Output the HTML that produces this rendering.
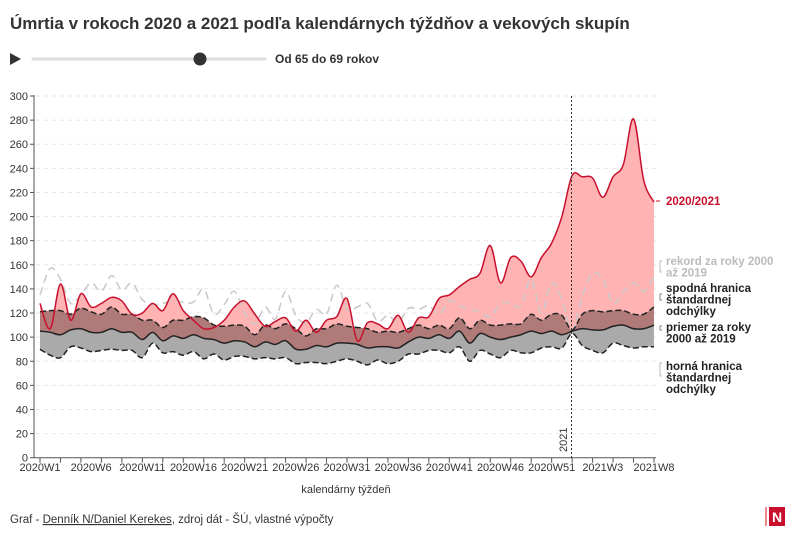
<!DOCTYPE html>
<html><head><meta charset="utf-8">
<style>
body{margin:0;background:#fff;width:800px;height:549px;overflow:hidden;font-family:"Liberation Sans",sans-serif;}
svg text{font-family:"Liberation Sans",sans-serif;}
</style></head>
<body>
<svg id="s" width="800" height="549" xmlns="http://www.w3.org/2000/svg">
<text x="10" y="29" font-size="17" font-weight="bold" fill="#333">Úmrtia v rokoch 2020 a 2021 podľa kalendárnych týždňov a vekových skupín</text>
<polygon points="10,53 10,65 21,59" fill="#333"/>
<line x1="33" y1="59" x2="265" y2="59" stroke="#ddd" stroke-width="3" stroke-linecap="round"/>
<circle cx="200" cy="59" r="6.5" fill="#333"/>
<text x="275" y="63" font-size="12" font-weight="bold" fill="#333">Od 65 do 69 rokov</text>
<g id="grid"></g>
<g id="plot"></g>
<text x="346" y="493" font-size="11" fill="#333" text-anchor="middle">kalendárny týždeň</text>
<text x="10" y="523" font-size="11.5" fill="#333">Graf - <tspan text-decoration="underline">Denník N/Daniel Kerekes</tspan>, zdroj dát - ŠÚ, vlastné výpočty</text>
<rect x="769" y="507" width="16" height="19" fill="#c8102e"/>
<rect x="765" y="507" width="2" height="19" fill="#e88"/>
<text x="777" y="522" font-size="14" font-weight="bold" fill="#fff" text-anchor="middle">N</text>
</svg>
<script>
const NS="http://www.w3.org/2000/svg";
const X=i=>40+10.233*i, Y=v=>457.7-1.2056*v;
const red=[128,107,144,114,136,125,128,133,130,119,120,128,122,136,122,114,107,108,114,125,130,119,109,113,116,105,114,104,114,117,132,97,112,111,107,118,104,116,117,132,135,142,148,153,176,145,166,163,150,166,178,200,234,233,232,216,233,243,281,230,212];
const rec=[135,157,148,128,135,145,138,151,139,145,131,127,128,130,129,129,140,119,127,138,120,111,125,115,138,118,112,123,119,143,123,125,128,113,118,112,124,123,126,119,130,126,123,121,117,128,128,126,148,120,145,131,106,134,153,148,128,137,145,138,150];
const up=[121,122,122,119,124,121,119,125,119,119,114,114,108,114,114,117,116,110,109,110,109,102,110,107,111,107,101,107,107,111,109,108,107,104,105,104,107,110,107,110,107,116,107,114,110,110,111,111,119,114,119,118,106,119,122,121,122,122,119,119,125];
const mean=[105,104,102,106,107,104,104,107,104,104,98,104,97,101,99,102,99,98,95,97,96,92,96,94,97,90,90,93,92,95,95,94,91,92,92,91,96,100,99,102,99,105,95,103,100,98,100,102,105,103,105,102,105,107,106,106,109,110,107,107,110];
const lo=[90,85,83,92,91,88,89,90,89,89,83,95,87,88,85,88,82,86,81,84,84,82,83,82,83,78,79,79,78,80,82,80,77,81,78,80,86,86,89,89,87,92,80,89,86,83,89,87,87,91,92,91,103,93,89,87,95,93,91,92,92];
function pts(a){return a.map((v,i)=>[X(i),Y(v)]);}
function curve(p,move=true){let d=move?`M${p[0][0]},${p[0][1]}`:`L${p[0][0]},${p[0][1]}`;
 for(let i=0;i<p.length-1;i++){const p0=p[Math.max(0,i-1)],p1=p[i],p2=p[i+1],p3=p[Math.min(p.length-1,i+2)];
 const t=0.17;d+=`C${p1[0]+(p2[0]-p0[0])*t},${p1[1]+(p2[1]-p0[1])*t} ${p2[0]-(p3[0]-p1[0])*t},${p2[1]-(p3[1]-p1[1])*t} ${p2[0]},${p2[1]}`;}return d;}
function band(a,b){return curve(pts(a))+curve(pts(b).reverse(),false)+"Z";}
const g=document.getElementById('grid'),pl=document.getElementById('plot');
function el(parent,tag,attrs,txt){const e=document.createElementNS(NS,tag);for(const k in attrs)e.setAttribute(k,attrs[k]);if(txt)e.textContent=txt;parent.appendChild(e);return e;}
for(let v=0;v<=300;v+=20){const y=Y(v);
 if(v>0)el(g,'line',{x1:36,x2:660,y1:y,y2:y,stroke:'#e6e6e6','stroke-dasharray':'4,4'});
 el(g,'line',{x1:30,x2:34,y1:y,y2:y,stroke:'#555'});
 el(g,'text',{x:28,y:y+4,'font-size':11,fill:'#333','text-anchor':'end'},String(v));}
el(g,'line',{x1:34,x2:34,y1:Y(300)-1,y2:Y(0),stroke:'#555'});
el(g,'line',{x1:34,x2:X(60)+2,y1:Y(0),y2:Y(0),stroke:'#555'});
for(let i=0;i<=60;i+=2){el(g,'line',{x1:X(i),x2:X(i),y1:Y(0),y2:Y(0)+5,stroke:'#555'});}
const labs=[[0,'2020W1'],[5,'2020W6'],[10,'2020W11'],[15,'2020W16'],[20,'2020W21'],[25,'2020W26'],[30,'2020W31'],[35,'2020W36'],[40,'2020W41'],[45,'2020W46'],[50,'2020W51'],[55,'2021W3'],[60,'2021W8']];
labs.forEach(([i,t])=>el(g,'text',{x:X(i),y:471,'font-size':11,fill:'#333','text-anchor':'middle'},t));
el(pl,'path',{d:band(red,up),fill:'#ffb3b3'});
el(pl,'path',{d:band(up,lo),fill:'#aaaaaa'});
el(pl,'path',{d:band(up,mean),fill:'#b07a78'});
el(pl,'path',{d:curve(pts(rec)),fill:'none',stroke:'#c8c8c8','stroke-width':1.5,'stroke-dasharray':'8,5'});
el(pl,'path',{d:curve(pts(up)),fill:'none',stroke:'#222','stroke-width':1.5,'stroke-dasharray':'6,3'});
el(pl,'path',{d:curve(pts(lo)),fill:'none',stroke:'#222','stroke-width':1.5,'stroke-dasharray':'6,3'});
el(pl,'path',{d:curve(pts(mean)),fill:'none',stroke:'#222','stroke-width':1.5});
el(pl,'path',{d:curve(pts(red)),fill:'none',stroke:'#c8102e','stroke-width':1.5});
el(pl,'line',{x1:571.5,x2:571.5,y1:96,y2:Y(0),stroke:'#333','stroke-dasharray':'2,2'});
el(pl,'text',{x:0,y:0,'font-size':11,fill:'#333',transform:'translate(567,452) rotate(-90)'},'2021');
const L=[[205,'2020/2021','#c8102e',[]],[265,'rekord za roky 2000','#bbb',['až 2019']],[292,'spodná hranica','#222',['štandardnej','odchýlky']],[331,'priemer za roky','#222',['2000 až 2019']],[370,'horná hranica','#222',['štandardnej','odchýlky']]];
L.forEach(([y,t,c,more])=>{el(pl,'text',{x:666,y:y,'font-size':11.5,'font-weight':'bold',fill:c},t);more.forEach((m,k)=>el(pl,'text',{x:666,y:y+11.5*(k+1),'font-size':11.5,'font-weight':'bold',fill:c},m));});
el(pl,'line',{x1:656,x2:660,y1:201,y2:201,stroke:'#c8102e'});
[[261,272,'#bbb'],[294,300,'#888'],[326,330,'#888'],[363,376,'#bbb']].forEach(([a,b,c])=>el(pl,'path',{d:`M662,${a}h-2v${b-a}h2`,fill:'none',stroke:c}));
</script>
</body></html>
